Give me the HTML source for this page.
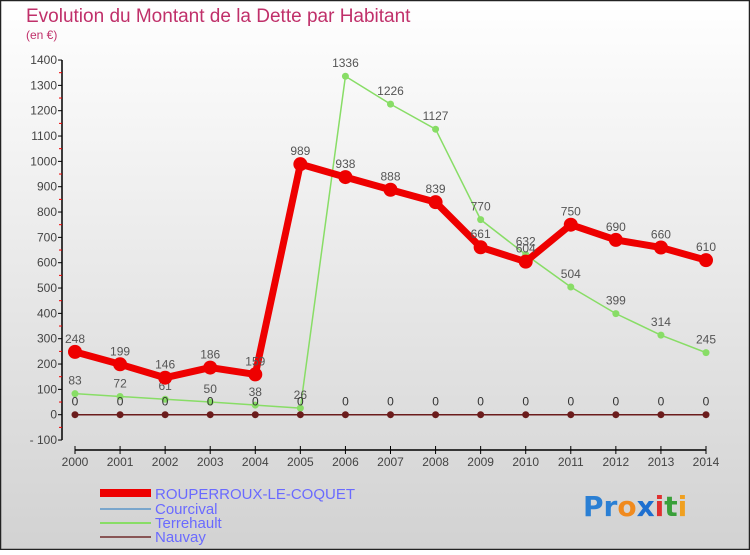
<!DOCTYPE html>
<html><head><meta charset="utf-8"><style>
html,body{margin:0;padding:0}
body{width:750px;height:550px;overflow:hidden;font-family:"Liberation Sans",sans-serif}
</style></head><body>
<svg id="chart" width="750" height="550" xmlns="http://www.w3.org/2000/svg" font-family="Liberation Sans, sans-serif">
<defs><linearGradient id="bg" x1="0" y1="0" x2="0" y2="1"><stop offset="0" stop-color="#ffffff"/><stop offset="1" stop-color="#d2d2d2"/></linearGradient></defs>
<rect x="0.5" y="0.5" width="749" height="549" fill="url(#bg)" stroke="#222" stroke-width="1.5"/>
<text x="26" y="22" font-size="19" fill="#c0306a">Evolution du Montant de la Dette par Habitant</text>
<text x="26" y="39" font-size="12" fill="#c0306a">(en €)</text>
<g id="axes"></g>
<g id="series"></g>
<g id="legend">
<rect x="100" y="489" width="51" height="8" fill="#e00"/>
<text x="155" y="499" font-size="15" fill="#6a6aff">ROUPERROUX-LE-COQUET</text>
<line x1="100" y1="509" x2="151" y2="509" stroke="#7aa6cc" stroke-width="2"/>
<text x="155" y="514" font-size="15" fill="#6a6aff">Courcival</text>
<line x1="100" y1="523" x2="151" y2="523" stroke="#88dd66" stroke-width="2"/>
<text x="155" y="528" font-size="15" fill="#6a6aff">Terrehault</text>
<line x1="100" y1="537" x2="151" y2="537" stroke="#885555" stroke-width="2"/>
<text x="155" y="542" font-size="15" fill="#6a6aff">Nauvay</text>
</g>
<g font-size="28" font-weight="bold" font-family="DejaVu Sans, sans-serif">
<text x="583" y="516"><tspan fill="#2a7fd4">Pr</tspan><tspan fill="#f08a1e">o</tspan><tspan fill="#1e6fd0">x</tspan><tspan fill="#e03030">i</tspan><tspan fill="#3aa03a">t</tspan><tspan fill="#f0a020">i</tspan></text>
</g>
</svg>
<script>
const years=[2000,2001,2002,2003,2004,2005,2006,2007,2008,2009,2010,2011,2012,2013,2014];
const rouperroux=[248,199,146,186,159,989,938,888,839,661,604,750,690,660,610];
const courcival=[0,0,0,0,0,0,0,0,0,0,0,0,0,0,0];
const terrehault=[83,72,61,50,38,26,1336,1226,1127,770,632,504,399,314,245];
const nauvay=[0,0,0,0,0,0,0,0,0,0,0,0,0,0,0];
const yTicks=[-100,0,100,200,300,400,500,600,700,800,900,1000,1100,1200,1300,1400];
const NS="http://www.w3.org/2000/svg";
const x=i=>75+i*(706-75)/(years.length-1);
const y=v=>414.7-v*(380/1500);
function mk(tag,attrs,parent,txt){const e=document.createElementNS(NS,tag);for(const k in attrs)e.setAttribute(k,attrs[k]);if(txt!==undefined)e.textContent=txt;parent.appendChild(e);return e;}
const ax=document.getElementById('axes');
let e=mk('line',{x1:62,y1:y(1400),x2:62,y2:y(-100),stroke:'#000','stroke-width':1.5},ax);


yTicks.forEach((t,i)=>{
 let l=mk('line',{x1:58,y1:y(t),x2:62,y2:y(t),stroke:'#000'},ax);
 
 
 if(i<yTicks.length-1){let m=mk('line',{x1:59,y1:y(t+50),x2:62,y2:y(t+50),stroke:'#e00'},ax);
 
 }
 let tx=mk('text',{x:57,y:y(t)+4,'font-size':12,'text-anchor':'end',fill:'#444'},ax,t===-100?'- 100':String(t));
 
 
});
e=mk('line',{x1:75,y1:450,x2:706,y2:450,stroke:'#000','stroke-width':1.5},ax);


years.forEach((yr,i)=>{
 let l=mk('line',{x1:x(i),y1:446,x2:x(i),y2:454,stroke:'#000'},ax);
 
 
 let t=mk('text',{x:x(i),y:466,'font-size':12,'text-anchor':'middle',fill:'#444'},ax,String(yr));
 
 
});
const sg=document.getElementById('series');
function series(name,data,color,w,r,labels,labelColor){
 const g=mk('g',{},sg);
 
 
 const p=mk('polyline',{points:data.map((v,i)=>x(i)+','+y(v)).join(' '),fill:'none',stroke:color,'stroke-width':w,'stroke-linejoin':'round'},g);
 
 
 data.forEach((v,i)=>{
  const c=mk('circle',{cx:x(i),cy:y(v),r:r,fill:color},g);
  
  
  if(labels){const t=mk('text',{x:x(i),y:y(v)-9,'font-size':12,'text-anchor':'middle',fill:labelColor},g,String(v));
  
  }
 });
}
series('terrehault',terrehault,'#88dd66',1.5,3.5,true,'#555');
series('rouperroux',rouperroux,'#e00',7,7,true,'#555');
series('courcival',courcival,'#7aa6cc',1.5,3,true,'#333');
series('nauvay',nauvay,'#6b1c1c',1.5,3.5,false,'#333');
</script>
</body></html>
